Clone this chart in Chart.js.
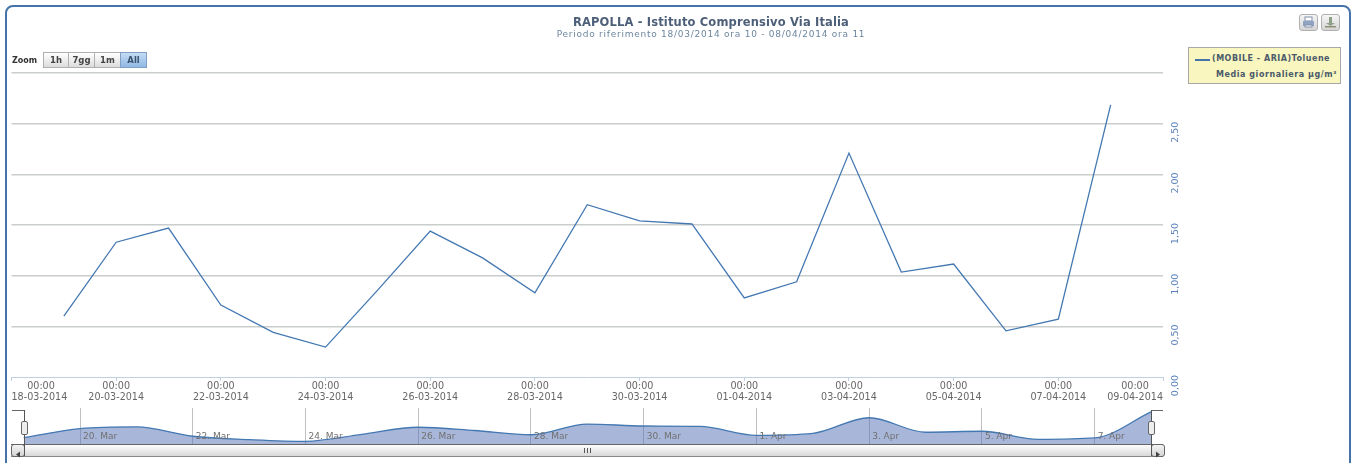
<!DOCTYPE html>
<html>
<head>
<meta charset="utf-8">
<title>RAPOLLA - Toluene</title>
<script src="https://cdn.jsdelivr.net/npm/chart.js@4/dist/chart.umd.js"></script>
<style>
  html, body { margin:0; padding:0; background:#fff; overflow:hidden; }
  body { width:1354px; height:463px; position:relative; font-family:"DejaVu Sans", sans-serif; filter:blur(0.35px); }
  .abs, canvas { position:absolute; }
  #frame { left:5px; top:5px; width:1342px; height:470px; border:2px solid #4572A7; border-radius:8px; }
  #title { left:411px; width:600px; top:15px; text-align:center; font-size:11.5px; font-weight:bold; color:#4d5f78; letter-spacing:.15px; white-space:nowrap; }
  #subtitle { left:411px; width:600px; top:29px; text-align:center; font-size:9px; color:#6D869F; letter-spacing:.75px; white-space:nowrap; }
  #zoomLabel { left:12px; top:56px; font-size:8px; font-weight:bold; color:#333; }
  .zbtn { top:52px; height:14px; line-height:14px; text-align:center; font-size:8.5px; font-weight:bold; color:#444;
          border:1px solid #b0b0b0; background:linear-gradient(#fff,#dcdcdc); box-sizing:content-box; }
  .zbtn.on { background:linear-gradient(#c6dcf4,#8fb8e4); border-color:#7f9fc4; color:#39536f; }
  .tool { top:14px; width:17px; height:15px; border:1px solid #b0b0b0; border-radius:3px; background:linear-gradient(#f6f6f6,#d4d4d4); }
  #legend { left:1188px; top:47px; width:151px; height:35px; border:1px solid #a8a8a8; background:#f9f6bf; font-size:8px; font-weight:bold; color:#4a5a6a; }
  #legend .key { position:absolute; left:6px; top:11px; width:15px; height:1.5px; background:#4572A7; }
  #legend .l1 { position:absolute; left:23px; top:6px; white-space:nowrap; letter-spacing:.5px; }
  #legend .l2 { position:absolute; left:27px; top:22px; white-space:nowrap; letter-spacing:.55px; }
  #scrollbar { left:11px; top:444px; width:1152px; height:11px; border-top:1px solid #666; border-bottom:1px solid #888; background:linear-gradient(#fff,#d8d8d8); }
  .sbtn { top:444px; width:12px; height:11px; border:1px solid #666; border-radius:3px; background:linear-gradient(#f4f4f4,#d4d4d4); }
  .grip { top:448px; width:1px; height:5px; background:#555; }
  .hline { height:1px; background:#666; top:410px; width:12px; }
  .vline { width:1px; background:#555; top:410px; height:46px; }
  .handle { top:421px; width:5px; height:12px; border:1px solid #666; border-radius:2px; background:#eee; }
</style>
</head>
<body>
<div id="frame" class="abs"></div>
<canvas id="mainChart" width="1354" height="410" style="left:0;top:0;width:1354px;height:410px"></canvas>
<canvas id="navChart" width="1354" height="50" style="left:0;top:400px;width:1354px;height:50px"></canvas>

<div id="title" class="abs">RAPOLLA - Istituto Comprensivo Via Italia</div>
<div id="subtitle" class="abs">Periodo riferimento 18/03/2014 ora 10 - 08/04/2014 ora 11</div>

<div id="zoomLabel" class="abs">Zoom</div>
<div class="abs zbtn" style="left:43px;width:24px">1h</div>
<div class="abs zbtn" style="left:68px;width:25px">7gg</div>
<div class="abs zbtn" style="left:94px;width:25px">1m</div>
<div class="abs zbtn on" style="left:120px;width:25px">All</div>

<div class="abs tool" style="left:1299px"><svg width="17" height="15"><rect x="5" y="2" width="7" height="4" fill="#fff" stroke="#7f8fa8"/><rect x="3" y="6" width="11" height="5" fill="#8fa3c4"/><rect x="5" y="10" width="7" height="2" fill="#fff" stroke="#7f8fa8"/></svg></div>
<div class="abs tool" style="left:1321px"><svg width="17" height="15"><rect x="7" y="2" width="3" height="6" fill="#8f9f88"/><path d="M4 8h9l-4.500 3z" fill="#8f9f88"/><rect x="3" y="11" width="11" height="1.500" fill="#8f8f78"/></svg></div>

<div id="legend" class="abs">
  <span class="key"></span>
  <span class="l1">(MOBILE - ARIA)Toluene</span>
  <span class="l2">Media giornaliera µg/m³</span>
</div>

<div id="scrollbar" class="abs"></div>
<div class="abs sbtn" style="left:11px"><svg width="12" height="11"><path d="M8 2.500v6l-4-3z" fill="#444"/></svg></div>
<div class="abs sbtn" style="left:1151px"><svg width="12" height="11"><path d="M4 2.500v6l4-3z" fill="#444"/></svg></div>
<div class="abs grip" style="left:584px"></div>
<div class="abs grip" style="left:587px"></div>
<div class="abs grip" style="left:590px"></div>

<div class="abs hline" style="left:12px"></div>
<div class="abs hline" style="left:1151px"></div>
<div class="abs vline" style="left:24px"></div>
<div class="abs vline" style="left:1151px"></div>
<div class="abs handle" style="left:21px"></div>
<div class="abs handle" style="left:1148px"></div>

<script>
// daily categories, 18 March to 9 April 2014
const days = ['18-03-2014','19-03-2014','20-03-2014','21-03-2014','22-03-2014','23-03-2014','24-03-2014','25-03-2014',
  '26-03-2014','27-03-2014','28-03-2014','29-03-2014','30-03-2014','31-03-2014','01-04-2014','02-04-2014',
  '03-04-2014','04-04-2014','05-04-2014','06-04-2014','07-04-2014','08-04-2014','09-04-2014'];
const toluene = [null,0.60,1.33,1.47,0.71,0.44,0.295,0.86,1.44,1.175,0.83,1.70,1.54,1.51,0.78,0.94,2.21,1.035,1.115,0.455,0.57,2.685,null];
const yTickLabels = ['0,00','0,50','1,00','1,50','2,00','2,50',''];
const navTickLabels = ['20. Mar','22. Mar','24. Mar','26. Mar','28. Mar','30. Mar','1. Apr','3. Apr','5. Apr','7. Apr'];

const LINE = '#4478b2', GRID = '#c9cdcb', AXIS = '#C0D0E0', FONT = '"DejaVu Sans", sans-serif';
const tickFont = { family: FONT, size: 9.6, lineHeight: 1.15 };

// first and last date labels hug the axis ends, the library only centres them
const edgeLabels = {
  id: 'edgeLabels',
  afterDraw(chart) {
    const { ctx, scales: { x } } = chart;
    const y0 = x.top + 9;
    const last = days.length - 1;
    ctx.save();
    ctx.font = `${tickFont.size}px ${FONT}`;
    ctx.fillStyle = '#666';
    ctx.textBaseline = 'middle';
    [[0, 'left', 29.5], [last, 'right', -28]].forEach(([i, align, off]) => {
      const px = x.getPixelForValue(i);
      ctx.textAlign = align;
      ctx.fillText(days[i], px, y0 + 11);
      ctx.textAlign = 'center';
      ctx.fillText('00:00', px + off, y0);
    });
    ctx.restore();
  }
};

// y labels read upward and hang below their grid line
const yLabels = {
  id: 'yLabels',
  afterDraw(chart) {
    const { ctx, scales: { y } } = chart;
    ctx.save();
    ctx.font = `9.5px ${FONT}`;
    ctx.fillStyle = '#5b82bb';
    ctx.textAlign = 'right';
    ctx.textBaseline = 'middle';
    y.ticks.forEach((t, i) => {
      ctx.save();
      ctx.translate(y.left + 12.5, y.getPixelForValue(t.value) - 2);
      ctx.rotate(-Math.PI / 2);
      ctx.fillText(yTickLabels[i], 0, 0);
      ctx.restore();
    });
    ctx.restore();
  }
};

new Chart(document.getElementById('mainChart'), {
  type: 'line',
  data: {
    labels: days,
    datasets: [{ label: '(MOBILE - ARIA)Toluene', data: toluene, borderColor: LINE, borderWidth: 1.3, pointRadius: 0, tension: 0, spanGaps: false }]
  },
  options: {
    responsive: false, animation: false,
    layout: { padding: { left: 11.5, right: 161, top: 73, bottom: 0 } },
    plugins: { legend: { display: false }, tooltip: { enabled: false } },
    scales: {
      x: {
        border: { color: AXIS },
        grid: { drawOnChartArea: false, color: AXIS, tickLength: 4 },
        afterFit: s => { s.height = 33; },
        afterBuildTicks: s => { s.ticks = s.ticks.filter(t => t.value % 2 === 0); },
        ticks: {
          autoSkip: false, maxRotation: 0, padding: 0, color: '#666', font: tickFont,
          callback: v => (v === 0 || v === days.length - 1) ? ['', ''] : ['00:00', days[v]]
        }
      },
      y: {
        position: 'right', min: 0, max: 3,
        border: { display: false },
        grid: { color: c => c.tick.value === 0 ? 'transparent' : GRID, lineWidth: 1.4, drawTicks: false },
        afterFit: s => { s.width = 30; },
        ticks: { stepSize: 0.5, display: false }
      }
    }
  },
  plugins: [edgeLabels, yLabels]
});

// "20. Mar" style labels sit inside the navigator, right of their grid line
const navLabels = {
  id: 'navLabels',
  afterDraw(chart) {
    const { ctx, scales: { x } } = chart;
    ctx.save();
    ctx.font = `9px ${FONT}`;
    ctx.fillStyle = '#707070';
    ctx.textBaseline = 'middle';
    x.ticks.forEach((t, i) => ctx.fillText(navTickLabels[i], x.getPixelForValue(t.value) + 3, 37));
    ctx.restore();
  }
};

const navDays = days.slice(1, -1);
const navValues = toluene.slice(1, -1);

new Chart(document.getElementById('navChart'), {
  type: 'line',
  data: {
    labels: navDays,
    datasets: [{ data: navValues, borderColor: LINE, borderWidth: 1.3, backgroundColor: 'rgba(82,112,180,0.5)', fill: 'origin', pointRadius: 0, cubicInterpolationMode: 'monotone' }]
  },
  options: {
    responsive: false, animation: false,
    layout: { padding: { left: 23.7, right: 203, top: 8, bottom: 5 } },
    plugins: { legend: { display: false }, tooltip: { enabled: false } },
    scales: {
      x: {
        border: { display: false },
        grid: { color: '#c0c0c0', drawTicks: false },
        afterBuildTicks: s => { s.ticks = s.ticks.filter(t => t.value % 2 === 1); },
        ticks: { display: false, autoSkip: false }
      },
      y: { display: false, min: 0, max: 3 }
    }
  },
  plugins: [navLabels]
});
</script>
</body>
</html>
